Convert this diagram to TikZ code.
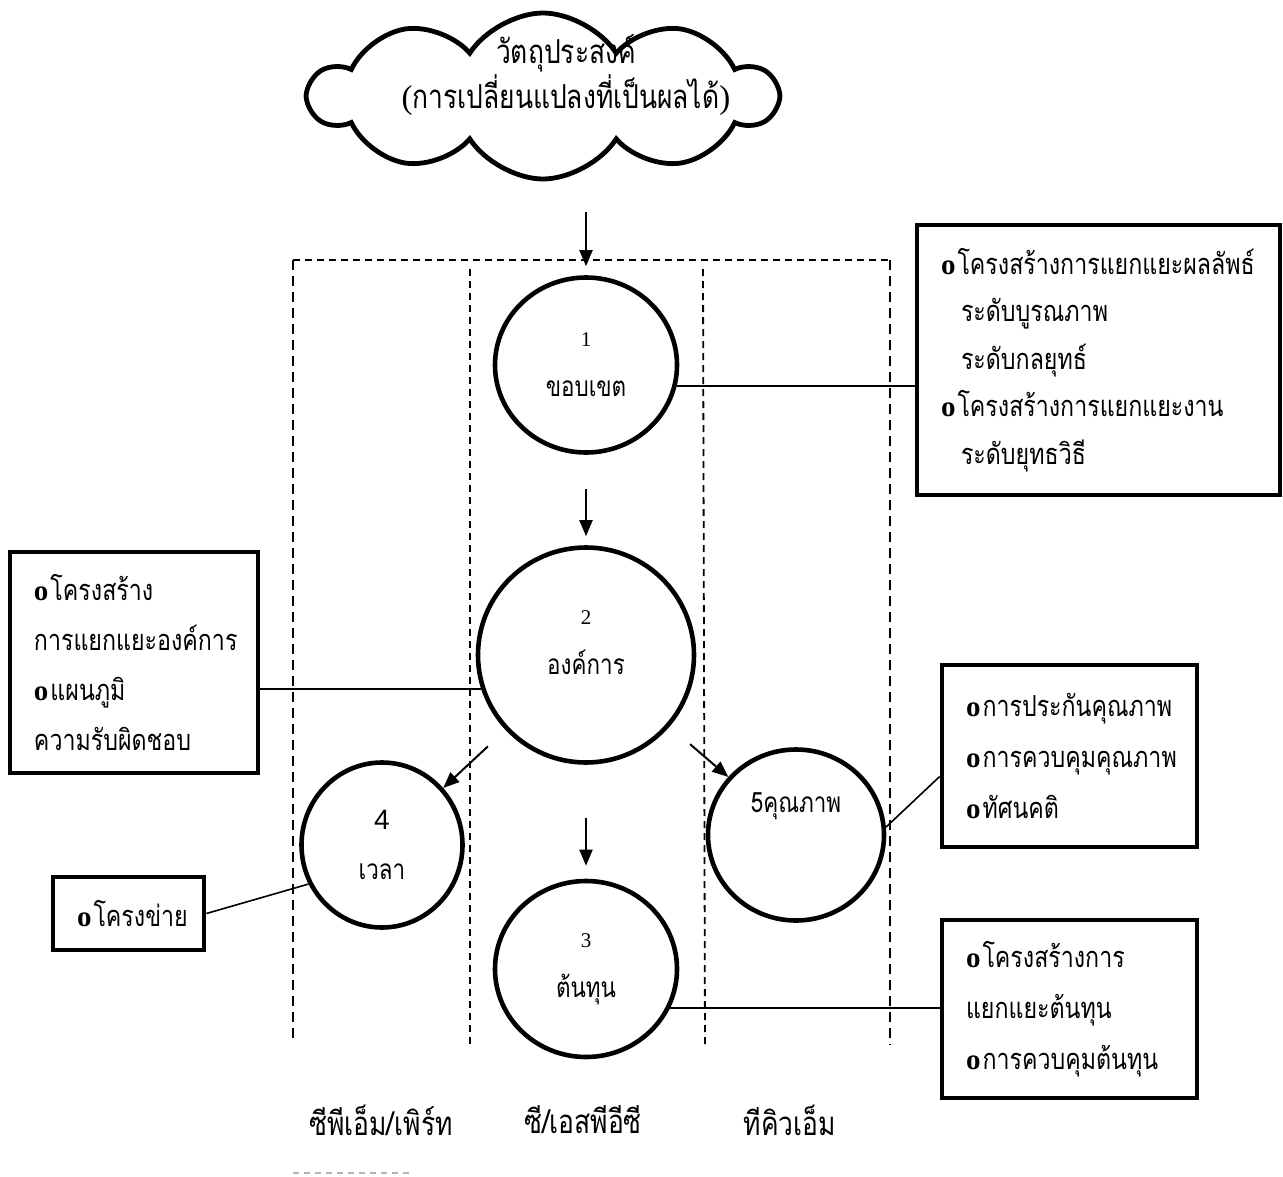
\documentclass[tikz,border=0pt]{standalone}
\usepackage{fontspec}
\setmainfont{Liberation Serif}
\newfontfamily\thaifont[Script=Thai,FakeStretch=0.8]{Loma}
\newfontfamily\numsans{Liberation Sans}
\usetikzlibrary{shapes.geometric,shapes.symbols,arrows.meta}

\newcommand\cnum[1]{{\rmfamily\fontsize{21}{50}\selectfont #1}}
\newcommand\bul{{\rmfamily\bfseries o}\kern2pt}

\tikzset{
  bubble/.style={draw,ellipse,line width=4.6pt,inner sep=0pt,align=center,
    font=\thaifont\fontsize{28}{50}\selectfont},
  listbox/.style={draw,rectangle,line width=4.8pt,inner xsep=24pt,inner ysep=0pt,
    align=left,font=\thaifont\fontsize{29}{50}\selectfont},
  lanelabel/.style={font=\thaifont\fontsize{33}{36}\selectfont},
  link/.style={line width=1.6pt},
  flow/.style={line width=2pt,-{Triangle[length=16pt,width=13pt]}},
  lane/.style={line width=1.8pt,dash pattern=on 7pt off 5pt},
  outerlane/.style={line width=1.8pt,dash pattern=on 10pt off 6pt},
}

\begin{document}
\begin{tikzpicture}[x=1pt,y=-1pt]
\useasboundingbox (0,0) rectangle (1283,1176);
\tikzstyle{every node}+=[inner sep=0pt]

\node[cloud,draw,line width=4.8pt,cloud puffs=10,cloud puff arc=115,aspect=2.7,
  cloud ignores aspect,minimum width=466pt,minimum height=166pt] (goal) at (543,96) {};
\node[font=\thaifont\fontsize{33}{45}\selectfont,align=center] (goaltext) at (566,75)
  {วัตถุประสงค์\\{\rmfamily(}การเปลี่ยนแปลงที่เป็นผลได้{\rmfamily)}};

\draw[lane] (293,260) -- (890,260);
\draw[outerlane] (293,260) -- (293,1041);
\draw[outerlane] (890,260) -- (890,1045);
\draw[lane] (470,269) -- (470,1046);
\draw[lane] (703,269) -- (705,1048);

\node[bubble,minimum width=182pt,minimum height=175pt] (scope) at (586,365) {\cnum{1}\\ขอบเขต};
\node[bubble,minimum width=216pt,minimum height=215pt] (org) at (586,655) {\cnum{2}\\องค์การ\\[-40pt]\strut};
\node[bubble,minimum width=182pt,minimum height=176pt] (cost) at (586,969) {\cnum{3}\\ต้นทุน};
\node[bubble,minimum width=161pt,minimum height=165pt] (time) at (382,845) {{\numsans 4}\\เวลา};
\node[bubble,minimum width=176pt,minimum height=171pt] (quality) at (796,835) {5คุณภาพ\\\strut};

\node[listbox,text width=315pt,minimum height=270pt,font=\thaifont\fontsize{29}{47.5}\selectfont]
  (wbsbox) at (1098.5,360) {\bul โครงสร้างการแยกแยะผลลัพธ์\\
  \hspace*{20pt}ระดับบูรณภาพ\\ \hspace*{20pt}ระดับกลยุทธ์\\
  \bul โครงสร้างการแยกแยะงาน\\ \hspace*{20pt}ระดับยุทธวิธี};
\node[listbox,text width=200pt,minimum height=221pt] (obsbox) at (134,662.5)
  {\bul โครงสร้าง\\การแยกแยะองค์การ\\\bul แผนภูมิ\\ความรับผิดชอบ};
\node[listbox,text width=103pt,minimum height=73pt] (netbox) at (128.5,913.5) {\bul โครงข่าย};
\node[listbox,text width=207pt,minimum height=182pt,font=\thaifont\fontsize{29}{51}\selectfont]
  (qabox) at (1069.5,756) {\bul การประกันคุณภาพ\\\bul การควบคุมคุณภาพ\\\bul ทัศนคติ};
\node[listbox,text width=207pt,minimum height=178pt,font=\thaifont\fontsize{29}{51}\selectfont]
  (costbox) at (1069.5,1009) {\bul โครงสร้างการ\\แยกแยะต้นทุน\\\bul การควบคุมต้นทุน};

\draw[flow,shorten <=31pt,shorten >=9pt] (goal.south -| scope.north) -- (scope.north);
\draw[flow,shorten <=34pt,shorten >=9pt] (scope) -- (org);
\draw[flow,shorten <=53pt,shorten >=13pt] (org) -- (cost);
\draw[flow,shorten <=24pt] (org) -- (time);
\draw[flow,shorten <=27pt] (org) -- (quality);

\draw[link] (scope.-13) -- (scope.-13 -| wbsbox.west);
\draw[link] (obsbox.east |- org.198) -- (org.198);
\draw[link] (netbox.east) -- (time.208);
\draw[link] (quality.5) -- (qabox.189);
\draw[link] (cost.-25) -- (cost.-25 -| costbox.west);

\node[lanelabel] (cpm) at (381,1120) {ซีพีเอ็ม/เพิร์ท};
\node[lanelabel] (cspec) at (583,1120) {ซี/เอสพีอีซี};
\node[lanelabel] (tqm) at (790,1120) {ทีคิวเอ็ม};
\draw[gray!60,line width=1.5pt,dash pattern=on 6pt off 5pt] (293,1173) -- (410,1173);
\end{tikzpicture}
\end{document}
